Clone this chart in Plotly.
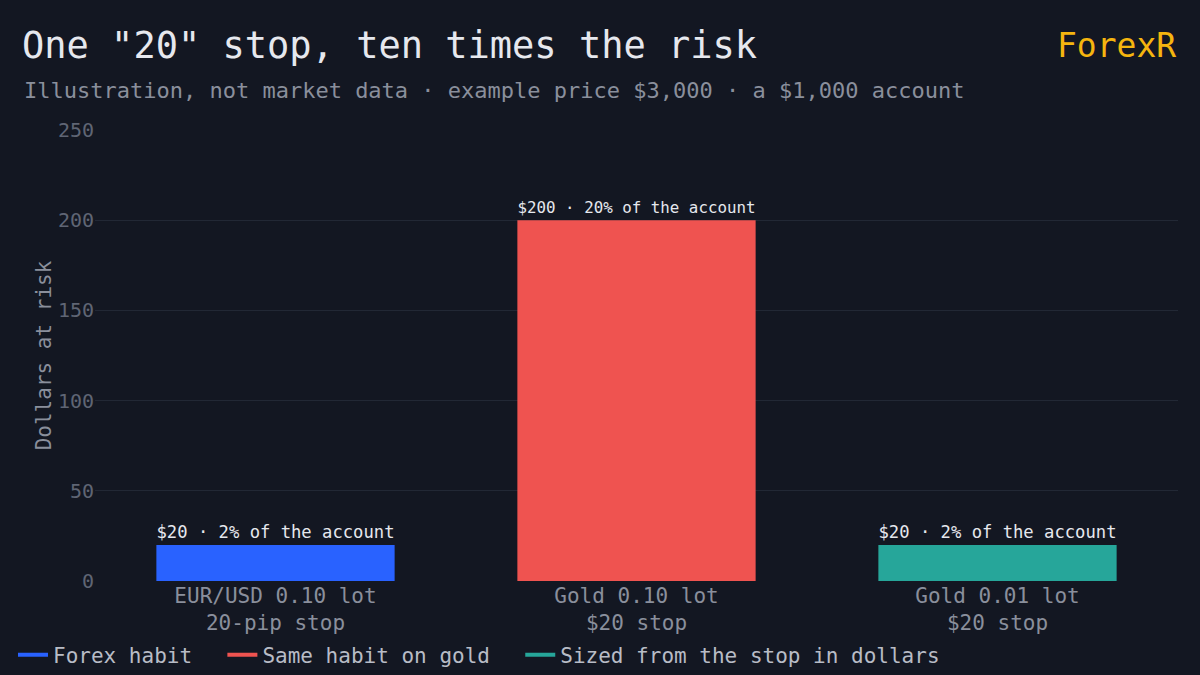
import plotly.graph_objects as go

categories = ["EUR/USD 0.10 lot<br>20-pip stop", "Gold 0.10 lot<br>$20 stop", "Gold 0.01 lot<br>$20 stop"]
values = [20, 200, 20]
series_names = ["Forex habit", "Same habit on gold", "Sized from the stop in dollars"]
labels = ["$20 · 2% of the account", "$200 · 20% of the account", "$20 · 2% of the account"]
colors = ["#2962ff", "#ef5350", "#26a69a"]
FONT = "DejaVu Sans Mono"

fig = go.Figure()
for c, v, n, l, col in zip(categories, values, series_names, labels, colors):
    fig.add_trace(go.Bar(x=[c], y=[v], name=n, marker_color=col, marker_line_width=0, width=0.66,
                         text=[l], textposition="outside", cliponaxis=False, showlegend=False,
                         textfont=dict(color="#e6e8ee", size=20, family=FONT)))
for n, col in zip(series_names, colors):
    fig.add_trace(go.Scatter(x=[None], y=[None], mode="lines", name=n + "\u00a0\u00a0",
                             line=dict(color=col, width=4)))

fig.update_layout(
    width=1200, height=675, paper_bgcolor="#131722", plot_bgcolor="#131722",
    font=dict(family=FONT, color="#8a8f9c", size=20),
    margin=dict(l=95, r=22, t=130, b=94, autoexpand=False),
    barmode="overlay", bargap=0.34,
    title=dict(text='One "20" stop, ten times the risk', x=22/1200, xanchor="left",
               y=1-45/675, yanchor="middle", yref="container",
               font=dict(size=37, color="#e6e8ee", family=FONT)),
    legend=dict(orientation="h", x=-82/1083, xanchor="left", y=-74/451, yanchor="middle",
                font=dict(size=21, color="#b8bcc6"), traceorder="normal", itemwidth=30),
    xaxis=dict(showgrid=False, tickfont=dict(size=21, color="#8a8f9c"), showline=False),
    yaxis=dict(range=[0, 250], dtick=50, gridcolor="#222835", zeroline=False,
               tickfont=dict(size=20, color="#5f6574"),
               title=dict(text="Dollars at risk", font=dict(size=21, color="#8a8f9c"), standoff=0)),
)
fig.add_annotation(text="Illustration, not market data · example price $3,000 · a $1,000 account",
                   xref="paper", yref="paper", x=-73/1083, y=1.0, yshift=40, xanchor="left", yanchor="middle",
                   showarrow=False, font=dict(size=22, color="#8a8f9c", family=FONT))
fig.add_annotation(text="ForexR", xref="paper", yref="paper", x=1.0, y=1.0, yshift=85,
                   xanchor="right", yanchor="middle", showarrow=False,
                   font=dict(size=33, color="#f5b50f", family=FONT))
fig.write_html("out.html", config={"displayModeBar": False},
               post_script="document.body.style.margin='0';document.body.style.background='#131722';")
